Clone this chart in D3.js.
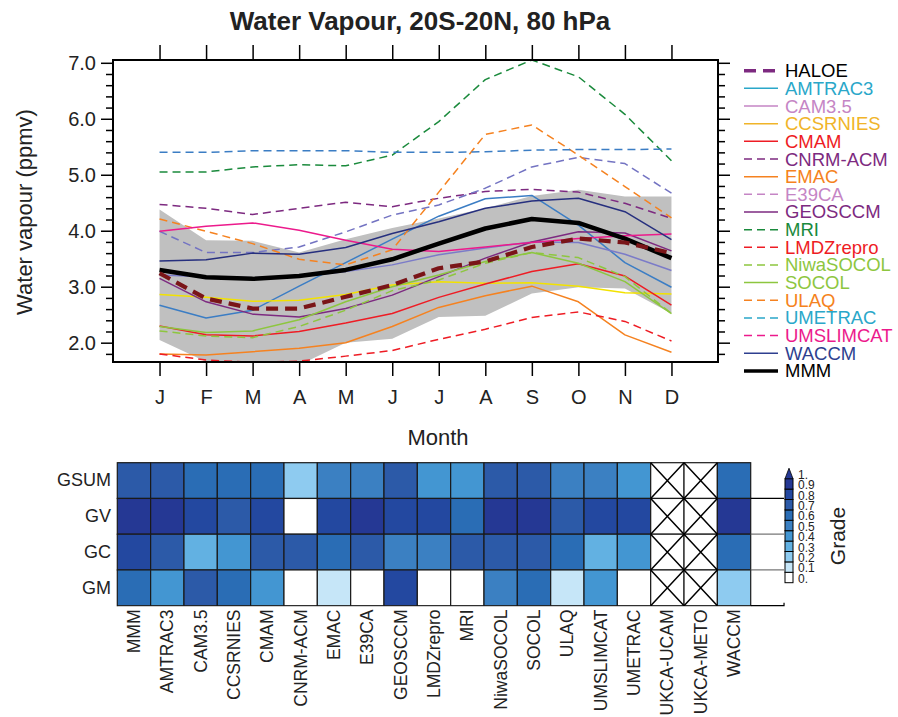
<!DOCTYPE html>
<html><head><meta charset="utf-8">
<script src="https://cdn.jsdelivr.net/npm/d3@7"></script>
<style>
body{margin:0;background:#fff;}
text{font-family:"Liberation Sans",Arial,sans-serif;}
</style></head><body>
<svg id="c" width="898" height="717"></svg>
<script>
// ---------------- DATA ----------------
const months = ["J","F","M","A","M","J","J","A","S","O","N","D"];
const yMajorTicks = [2,3,4,5,6,7];
const HALOE     = [3.24,2.79,2.61,2.61,2.82,3.03,3.33,3.45,3.71,3.86,3.79,3.60];
const AMTRAC3   = [2.67,2.44,2.58,3.01,3.43,3.85,4.26,4.57,4.63,4.10,3.43,2.99];
const CAM35     = [3.21,3.18,3.16,3.18,3.27,3.39,3.57,3.69,3.80,3.79,3.58,3.29];
const CCSRNIES  = [2.86,2.81,2.74,2.76,2.86,3.03,3.09,3.06,3.07,3.01,2.89,2.87];
const CMAM      = [2.30,2.14,2.12,2.20,2.35,2.52,2.81,3.05,3.27,3.41,3.19,2.67];
const CNRMACM   = [4.47,4.40,4.29,4.40,4.51,4.43,4.58,4.70,4.74,4.69,4.49,4.22];
const EMAC      = [1.80,1.78,1.84,1.90,2.00,2.29,2.63,2.84,3.01,2.73,2.14,1.83];
const E39CA     = [3.99,3.61,3.61,3.71,3.98,4.28,4.46,4.76,5.14,5.31,5.20,4.67];
const GEOSCCM   = [3.15,2.73,2.51,2.46,2.61,2.85,3.18,3.51,3.80,3.98,3.96,3.64];
const MRI       = [5.05,5.05,5.14,5.18,5.16,5.35,5.95,6.70,7.05,6.75,6.08,5.25];
const LMDZrepro = [1.80,1.69,1.65,1.67,1.76,1.86,2.06,2.24,2.45,2.55,2.38,2.03];
const NiwaSOCOL = [2.21,2.12,2.09,2.29,2.58,2.93,3.12,3.42,3.61,3.52,3.18,2.52];
const SOCOL     = [2.29,2.18,2.21,2.41,2.73,3.00,3.21,3.45,3.61,3.42,3.09,2.52];
const ULAQ      = [4.21,3.99,3.77,3.49,3.39,3.66,4.69,5.72,5.89,5.35,4.79,4.23];
const UMETRAC   = [5.40,5.40,5.43,5.43,5.43,5.40,5.40,5.41,5.44,5.45,5.45,5.46];
const UMSLIMCAT = [3.99,4.08,4.14,4.01,3.83,3.67,3.63,3.71,3.79,3.86,3.91,3.94];
const WACCM     = [3.46,3.48,3.60,3.58,3.70,3.95,4.16,4.40,4.53,4.58,4.34,3.84];
const MMM       = [3.30,3.17,3.14,3.19,3.30,3.49,3.77,4.04,4.21,4.14,3.86,3.51];
const bandUpper = [4.38,3.83,3.82,3.61,3.85,4.05,4.22,4.40,4.62,4.73,4.61,4.61];
const bandLower = [2.05,1.66,1.60,1.60,2.00,2.07,2.46,2.48,2.88,2.99,2.97,2.52];

const gradeModels = ["MMM","AMTRAC3","CAM3.5","CCSRNIES","CMAM","CNRM-ACM","EMAC","E39CA","GEOSCCM","LMDZrepro","MRI","NiwaSOCOL","SOCOL","ULAQ","UMSLIMCAT","UMETRAC","UKCA-UCAM","UKCA-METO","WACCM"];
const gradeRows = ["GSUM","GV","GC","GM"];
const GSUM = [0.75,0.75,0.65,0.65,0.65,0.25,0.55,0.55,0.75,0.45,0.45,0.75,0.75,0.55,0.55,0.45,null,null,0.65];
const GV   = [0.95,0.95,0.85,0.75,0.85,null,0.85,0.95,0.85,0.85,0.65,0.95,0.95,0.75,0.85,0.85,null,null,0.95];
const GC   = [0.85,0.75,0.35,0.45,0.75,0.75,0.65,0.75,0.55,0.55,0.75,0.75,0.75,0.65,0.35,0.45,null,null,0.65];
const GM   = [0.65,0.45,0.75,0.65,0.45,null,0.15,null,0.85,null,null,0.55,0.65,0.15,0.45,null,null,null,0.25];
const crossedModels = ["UKCA-UCAM","UKCA-METO"];
const gradeLevels = [0.1,0.2,0.3,0.4,0.5,0.6,0.7,0.8,0.9,1.0];
const gradeLabels = ["0.","0.1","0.2","0.3","0.4","0.5","0.6","0.7","0.8","0.9","1."];

// ---------------- STYLES ----------------
const series = [
  {name:"HALOE",     v:HALOE,     pc:"#7a1518", lc:"#7d2a80", dash:"12,7", w:4.2, lw:3.5},
  {name:"AMTRAC3",   v:AMTRAC3,   pc:"#3b7dc4", lc:"#2aa7c9", dash:null, w:1.5},
  {name:"CAM3.5",    v:CAM35,     pc:"#7b7bc8", lc:"#c585c5", dash:null, w:1.5},
  {name:"CCSRNIES",  v:CCSRNIES,  pc:"#f2e200", lc:"#f0b429", dash:null, w:1.5},
  {name:"CMAM",      v:CMAM,      pc:"#ee1c24", lc:"#ee1c24", dash:null, w:1.5},
  {name:"CNRM-ACM",  v:CNRMACM,   pc:"#7d2a80", lc:"#7d2a80", dash:"8,5", w:1.5},
  {name:"EMAC",      v:EMAC,      pc:"#f58220", lc:"#f58220", dash:null, w:1.5},
  {name:"E39CA",     v:E39CA,     pc:"#7373c2", lc:"#c585c5", dash:"8,5", w:1.5},
  {name:"GEOSCCM",   v:GEOSCCM,   pc:"#7d2a80", lc:"#7d2a80", dash:null, w:1.5},
  {name:"MRI",       v:MRI,       pc:"#1a8a3c", lc:"#1a8a3c", dash:"8,5", w:1.5},
  {name:"LMDZrepro", v:LMDZrepro, pc:"#ee1c24", lc:"#ee1c24", dash:"8,5", w:1.5},
  {name:"NiwaSOCOL", v:NiwaSOCOL, pc:"#8dc63f", lc:"#8dc63f", dash:"8,5", w:1.5},
  {name:"SOCOL",     v:SOCOL,     pc:"#8dc63f", lc:"#8dc63f", dash:null, w:1.5},
  {name:"ULAQ",      v:ULAQ,      pc:"#f58220", lc:"#f58220", dash:"8,5", w:1.5},
  {name:"UMETRAC",   v:UMETRAC,   pc:"#3b7dc4", lc:"#2aa7c9", dash:"8,5", w:1.5},
  {name:"UMSLIMCAT", v:UMSLIMCAT, pc:"#ec1a8c", lc:"#ec1a8c", dash:null, w:1.5, ldash:"8,5"},
  {name:"WACCM",     v:WACCM,     pc:"#262f7e", lc:"#2e3f8f", dash:null, w:1.5},
  {name:"MMM",       v:MMM,       pc:"#000000", lc:"#000000", dash:null, w:4.5, lw:3.5}
];
const gradeColors = ["#ffffff","#c6e6f8","#8ecbf0","#62b1e2","#4396d2","#3b80c2","#2a6db5","#2c5aa8","#2348a0","#253894","#253894"];

// ---------------- LINE CHART ----------------
const svg = d3.select("#c");
const x = d3.scaleLinear().domain([0,13]).range([113,718]);
const y = d3.scaleLinear().domain([1.655,7.05]).range([362,60]);

svg.append("text").attr("x",420).attr("y",30).attr("text-anchor","middle")
  .style("font-size","26px").style("font-weight","bold").attr("fill","#222").text("Water Vapour, 20S-20N, 80 hPa");

svg.append("clipPath").attr("id","pc").append("rect")
  .attr("x",113).attr("y",60).attr("width",605).attr("height",302);
const pg = svg.append("g").attr("clip-path","url(#pc)");

const idx = d3.range(12);
pg.append("path").datum(idx)
  .attr("d", d3.area().x(i=>x(i+1)).y0(i=>y(bandLower[i])).y1(i=>y(bandUpper[i])))
  .attr("fill","#c0c0c0");

const line = d3.line().x((d,i)=>x(i+1)).y(d=>y(d));
const drawOrder = series.filter(s=>s.name!=="HALOE" && s.name!=="MMM")
  .concat(series.filter(s=>s.name==="MMM"), series.filter(s=>s.name==="HALOE"));
drawOrder.forEach(s=>{
  pg.append("path").datum(s.v).attr("d",line).attr("fill","none")
    .attr("stroke",s.pc).attr("stroke-width",s.w)
    .attr("stroke-dasharray",s.dash).attr("stroke-linejoin","round");
});

svg.append("rect").attr("x",113).attr("y",60).attr("width",605).attr("height",302)
  .attr("fill","none").attr("stroke","#000").attr("stroke-width",2);

const minorTicks = d3.range(1.8,7.01,0.2).map(v=>+v.toFixed(1)).filter(v=>!yMajorTicks.includes(v));
function styleAxis(g){ g.select(".domain").remove(); g.selectAll("line").attr("stroke","#000").attr("stroke-width",1.5); }

svg.append("g").attr("transform","translate(113,0)")
  .call(d3.axisLeft(y).tickValues(yMajorTicks).tickSize(12).tickPadding(5).tickFormat(d3.format(".1f")))
  .call(styleAxis).call(g=>g.selectAll("text").attr("font-size",20).style("font-size","20px").attr("fill","#222"));
svg.append("g").attr("transform","translate(113,0)")
  .call(d3.axisLeft(y).tickValues(minorTicks).tickSize(7).tickFormat("")).call(styleAxis);
svg.append("g").attr("transform","translate(718,0)")
  .call(d3.axisRight(y).tickValues(yMajorTicks).tickSize(12).tickFormat("")).call(styleAxis);
svg.append("g").attr("transform","translate(718,0)")
  .call(d3.axisRight(y).tickValues(minorTicks).tickSize(7).tickFormat("")).call(styleAxis);

svg.append("g").attr("transform","translate(0,362)")
  .call(d3.axisBottom(x).tickValues(d3.range(1,13)).tickSize(14).tickPadding(14).tickFormat(d=>months[d-1]))
  .call(styleAxis).call(g=>g.selectAll("text").attr("font-size",20).style("font-size","20px").attr("fill","#222"));
svg.append("g").attr("transform","translate(0,60)")
  .call(d3.axisTop(x).tickValues(d3.range(1,13)).tickSize(15).tickFormat("")).call(styleAxis);

svg.append("text").attr("transform","translate(32,212) rotate(-90)").attr("text-anchor","middle")
  .style("font-size","22px").attr("fill","#222").text("Water vapour (ppmv)");
svg.append("text").attr("x",438).attr("y",445).attr("text-anchor","middle")
  .style("font-size","22px").attr("fill","#222").text("Month");

// legend
const lg = svg.append("g");
series.forEach((s,i)=>{
  const yy = 70.7 + i*17.66;
  lg.append("line").attr("x1",744).attr("x2",778).attr("y1",yy).attr("y2",yy)
    .attr("stroke",s.lc).attr("stroke-width",s.lw||1.5).attr("stroke-dasharray",s.ldash||s.dash);
  lg.append("text").attr("x",785).attr("y",yy+6.5).style("font-size","18.5px")
    .attr("fill", s.name==="HALOE"||s.name==="MMM" ? "#000" : s.lc).text(s.name);
});

// ---------------- HEATMAP ----------------
const hx = d3.scaleBand().domain(gradeModels).range([117.3,750.7]);
const hy = d3.scaleBand().domain(gradeRows).range([462.7,605.7]);
const color = d3.scaleThreshold().domain(gradeLevels).range(gradeColors);
const rowData = {GSUM, GV, GC, GM};
const hg = svg.append("g");
const cells = [];
gradeRows.forEach(r=>gradeModels.forEach((m,j)=>cells.push({r,m,v:rowData[r][j]})));
hg.selectAll("rect.cell").data(cells).join("rect").attr("class","cell")
  .attr("x",d=>hx(d.m)).attr("y",d=>hy(d.r)).attr("width",hx.bandwidth()).attr("height",hy.bandwidth())
  .attr("fill",d=>d.v==null?"#fff":color(d.v)).attr("stroke","#1a1a1a").attr("stroke-width",1.2);
cells.filter(d=>crossedModels.includes(d.m)).forEach(d=>{
  const x0=hx(d.m), y0=hy(d.r), w=hx.bandwidth(), h=hy.bandwidth();
  hg.append("path").attr("d",`M${x0},${y0}L${x0+w},${y0+h}M${x0+w},${y0}L${x0},${y0+h}`)
    .attr("stroke","#000").attr("stroke-width",1.5).attr("fill","none");
});
const xe0 = hx.range()[1], xe1 = xe0 + hx.step();
gradeRows.slice(1).forEach(r=>{
  hg.append("line").attr("x1",xe0).attr("x2",xe1).attr("y1",hy(r)).attr("y2",hy(r))
    .attr("stroke", r==="GV"?"#000":"#777").attr("stroke-width",1.2);
});
hg.append("path").attr("d",`M${xe0},${hy.range()[1]}H${xe1}V${hy.range()[1]-3}`)
  .attr("stroke","#000").attr("fill","none").attr("stroke-width",1.2);

// row labels
svg.append("g").attr("transform","translate(117,0)")
  .call(d3.axisLeft(hy).tickSize(0).tickPadding(6))
  .call(g=>g.select(".domain").remove())
  .call(g=>g.selectAll("text").attr("font-size",18).style("font-size","18px").attr("fill","#222"));
// column labels
svg.append("g").attr("transform","translate(0,606)")
  .call(d3.axisBottom(hx).tickSize(0).tickPadding(0))
  .call(g=>g.select(".domain").attr("stroke","#ccc"))
  .call(g=>g.selectAll("text").attr("font-size",17.5).style("font-size","17.5px").attr("fill","#222")
    .attr("text-anchor","end").attr("dy","0.35em").attr("transform","translate(0,3.5) rotate(-90)").attr("x",0).attr("y",0));

// colorbar
const cb = d3.scaleLinear().domain([0,1]).range([582.7,478.7]);
const cbg = svg.append("g");
d3.range(10).forEach(i=>{
  cbg.append("rect").attr("x",785).attr("width",8)
    .attr("y",cb((i+1)/10)).attr("height",cb(i/10)-cb((i+1)/10))
    .attr("fill",gradeColors[i]).attr("stroke","#000").attr("stroke-width",1);
});
cbg.append("path").attr("d",`M785,${cb(1)}L789,${cb(1)-10.5}L793,${cb(1)}Z`)
  .attr("fill",gradeColors[10]).attr("stroke","#000").attr("stroke-width",0.8);
gradeLabels.forEach((t,i)=>{
  cbg.append("text").attr("x",798).attr("y",cb(i/10)).style("font-size","12px").attr("fill","#222").text(t);
});
svg.append("text").attr("transform","translate(845,536) rotate(-90)").attr("text-anchor","middle")
  .style("font-size","21px").attr("fill","#222").text("Grade");
</script>
</body></html>
